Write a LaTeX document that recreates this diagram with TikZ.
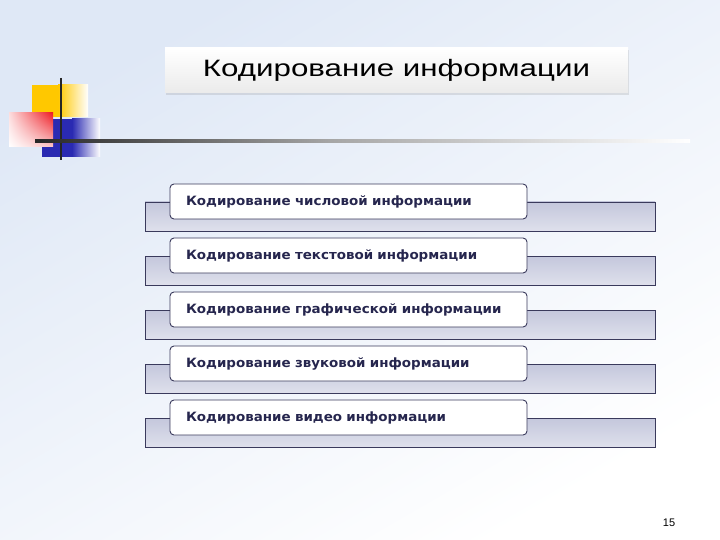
\documentclass[tikz,border=0pt]{standalone}
\usepackage{fontspec}
\setmainfont{Liberation Sans}
\newfontfamily\titlefont[FakeStretch=1.32]{Liberation Sans}
\newfontfamily\itemfont[FakeStretch=1.05]{DejaVu Sans}
\usetikzlibrary{shadows,shadings}
\definecolor{bgblue}{HTML}{DFE8F6}
\definecolor{barfill}{HTML}{C4C7DC}
\definecolor{barline}{HTML}{3A3A5C}
\definecolor{itemtext}{HTML}{26264E}
\definecolor{sqyellow}{HTML}{FFC800}
\definecolor{sqred}{HTML}{EE1C24}
\definecolor{sqblue}{HTML}{2A2AB2}
\tikzset{
  itembox/.style={draw=barline, line width=0.9pt, fill=white, rounded corners=4pt, minimum height=35pt,
    text width=325pt, inner xsep=16pt, align=left, text=itemtext,
    font=\itemfont\bfseries\fontsize{12.8}{14}\selectfont},
  itembar/.style={draw=barline, line width=0.9pt, top color=barfill, bottom color=barfill!55!white},
}
\begin{document}
\begin{tikzpicture}[x=1pt,y=-1pt]
    \useasboundingbox (0,0) rectangle (720,540);
    \shade[top color=bgblue, bottom color=white, shading angle=30] (0,0) rectangle (720,540);
    % title
    \node[top color=white, bottom color=black!8, drop shadow={shadow xshift=1pt, shadow yshift=-2pt, opacity=0.2},
      minimum width=463pt, minimum height=45pt, font=\titlefont\fontsize{23.7}{28}\selectfont] (title) at (396.5,70.5) {Кодирование информации};
    % squares and lines
    \fill[sqyellow] (32,85) rectangle (58,117);
    \shade[left color=sqyellow, right color=white] (58,85) rectangle (88,117);
    \fill[sqblue] (42,119) rectangle (72,157);
    \shade[left color=sqblue, right color=white] (72,119) rectangle (100,157);
    \shade[upper right=sqred, upper left=sqred!15!white, lower right=sqred!25!white, lower left=white] (9,113) rectangle (53,147);
    \draw[line width=2.5pt, black!85] (61,78)--(61,160);
    \shade[left color=black!85, right color=black!35] (35,139.5) rectangle (330,142.5);
    \shade[left color=black!35, right color=white] (330,139.5) rectangle (690,142.5);
    % items
    \foreach \txt[count=\i from 0] in {числовой,текстовой,графической,звуковой,видео}{
        \draw[itembar] (145,{202+54*\i}) rectangle (655,{231+54*\i});
        \path (348.5,{201.5+54*\i}) node[itembox](item\i){Кодирование \txt{} информации};
    }
    \path (669,523) node[font=\fontsize{11}{13}\selectfont](pagenum){15};
\end{tikzpicture}
\end{document}
